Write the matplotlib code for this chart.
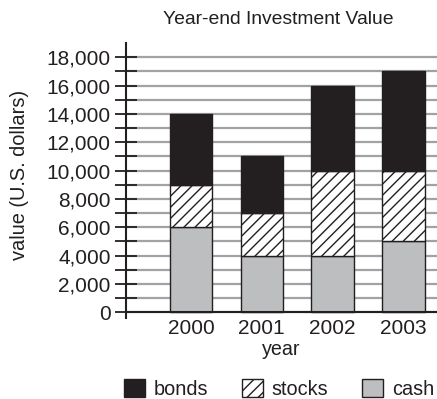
import matplotlib
matplotlib.use("Agg")
import matplotlib.pyplot as plt
import numpy as np

# Year-end holdings by asset class (U.S. dollars)
years = ["2000", "2001", "2002", "2003"]
cash = [6000, 4000, 4000, 5000]
stocks = [3000, 3000, 6000, 5000]
bonds = [5000, 4000, 6000, 7000]

ink = "#231f20"
plt.rcParams["font.family"] = ["Liberation Sans", "DejaVu Sans"]
plt.rcParams["text.color"] = ink
plt.rcParams["hatch.linewidth"] = 1.0
plt.rcParams["hatch.color"] = ink

fig = plt.figure(figsize=(4.37, 3.99), dpi=100)
ax = fig.add_axes([126 / 437, 81 / 399, 311 / 437, 275 / 399])

# spine placement first: moving a spine resets the ticks
for s in ["top", "right"]:
    ax.spines[s].set_visible(False)
ax.spines["bottom"].set_position(("data", 0))
ax.spines["bottom"].set_color(ink)
ax.spines["bottom"].set_linewidth(1.5)
ax.spines["bottom"].set_zorder(4)
ax.spines["left"].set_color(ink)
ax.spines["left"].set_linewidth(1.5)

x = np.arange(len(years))
w = 0.6
bottom2 = np.array(cash) + np.array(stocks)
ax.bar(x, cash, w, color="#bcbec0", edgecolor=ink, linewidth=1.0, zorder=3, label="cash")
ax.bar(x, stocks, w, bottom=cash, color="white", edgecolor=ink, hatch="///",
       linewidth=1.0, zorder=3, label="stocks")
ax.bar(x, bonds, w, bottom=bottom2, color=ink, edgecolor=ink, linewidth=1.0,
       zorder=3, label="bonds")

ax.set_xlim(-0.918, 3.475)
ax.set_ylim(-400, 19000)

# gridlines every 1000, labels every 2000
ax.set_yticks(np.arange(0, 18001, 2000))
ax.set_yticks(np.arange(1000, 18000, 2000), minor=True)
ax.set_yticklabels([f"{v:,}" for v in range(0, 18001, 2000)], fontsize=15, color=ink)
ax.grid(axis="y", which="both", color="#a0a2a5", linewidth=1.6, zorder=0)
ax.tick_params(axis="y", which="both", direction="inout", length=16, width=1.3,
               color=ink, pad=3)

ax.set_xticks(x)
ax.set_xticklabels(years, fontsize=15, color=ink)
ax.tick_params(axis="x", length=0, pad=5)

ax.set_xlabel("year", fontsize=14.2, color=ink, labelpad=1)
fig.text(20 / 437, 1 - 175 / 399, "value (U.S. dollars)", rotation=90,
         ha="center", va="center", fontsize=14.4, color=ink)
fig.text(278 / 437, 1 - 19 / 399, "Year-end Investment Value",
         ha="center", va="center", fontsize=13.9, color=ink)

handles, labels = ax.get_legend_handles_labels()
order = [2, 1, 0]
fig.legend([handles[i] for i in order], [labels[i] for i in order],
           loc="center", bbox_to_anchor=(279 / 437, 1 - 389 / 399), ncol=3,
           frameon=False, fontsize=14.3, handlelength=1.05, handleheight=1.0,
           handletextpad=0.45, columnspacing=1.7, borderpad=0)

fig.savefig("out.png", dpi=100)
